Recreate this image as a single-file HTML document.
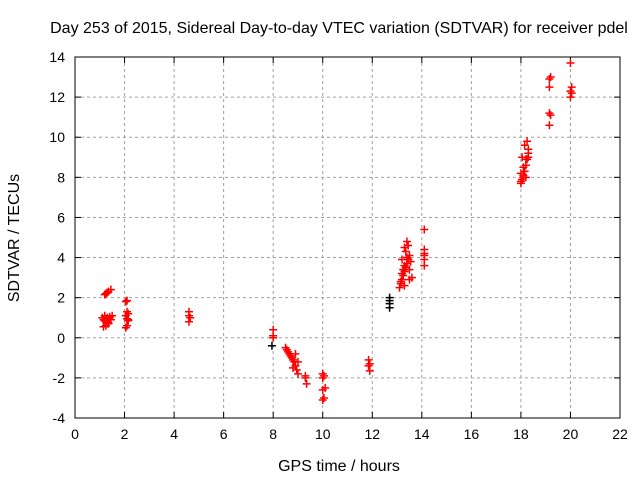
<!DOCTYPE html>
<html><head><meta charset="utf-8"><style>
body{margin:0;background:#fff;}
svg text{font-family:"Liberation Sans",sans-serif;font-size:14px;fill:#000;}
svg text.big{font-size:16px;}
</style></head><body>
<svg id="chart" width="640" height="480">
<rect width="640" height="480" fill="#fff"/>
<text class="big" x="339" y="33" text-anchor="middle">Day 253 of 2015, Sidereal Day-to-day VTEC variation (SDTVAR) for receiver pdel</text>
<text class="big" x="339" y="471" text-anchor="middle">GPS time / hours</text>
<text class="big" transform="translate(19,238) rotate(-90)" text-anchor="middle">SDTVAR / TECUs</text>
<g id="grid"></g><g id="ticks"></g><g id="marks"></g>
<rect x="75" y="57" width="545" height="361" fill="none" stroke="#000" stroke-width="1"/>
</svg>
<script>
const xTicks=[0,2,4,6,8,10,12,14,16,18,20,22];
const yTicks=[-4,-2,0,2,4,6,8,10,12,14];
const redX=[1.2,1.25,1.3,1.35,1.45,1.1,1.15,1.2,1.25,1.3,1.35,1.4,1.45,1.5,1.15,1.25,1.35,1.2,1.3,1.4,1.2,2.1,2.05,2.1,2.15,2.05,2.1,2.15,2.1,2.05,2.15,4.6,4.6,4.65,4.6,8.0,8.0,8.0,8.5,8.55,8.6,8.65,8.7,8.75,8.8,8.85,8.9,8.95,9.0,8.9,9.0,8.8,9.3,9.3,9.35,10.0,10.05,10.0,10.1,10.0,10.05,10.0,11.85,11.9,11.85,11.9,13.1,13.15,13.2,13.25,13.3,13.35,13.4,13.45,13.5,13.2,13.3,13.4,13.5,13.6,13.15,13.25,13.35,13.45,13.55,13.3,13.4,13.5,13.2,13.3,14.1,14.1,14.1,14.1,14.1,14.1,18.0,18.05,18.1,18.15,18.2,18.25,18.3,18.0,18.1,18.2,18.3,18.05,18.15,18.25,18.0,18.1,18.2,18.3,19.15,19.2,19.15,19.15,19.2,19.15,20.0,20.05,20.0,20.05,20.0];
const redY=[2.15,2.2,2.25,2.3,2.4,1.0,0.9,1.1,0.8,1.0,0.7,1.05,0.9,1.1,0.55,0.6,0.75,0.85,0.95,1.0,1.0,1.85,1.8,1.3,1.2,1.1,0.95,0.85,0.6,0.5,0.9,1.3,1.1,1.0,0.8,0.4,0.1,0.0,-0.5,-0.6,-0.7,-0.8,-0.9,-1.0,-1.1,-1.2,-1.4,-1.6,-1.8,-0.8,-1.2,-1.5,-1.9,-2.0,-2.3,-1.8,-1.9,-2.0,-2.5,-2.6,-3.0,-3.1,-1.1,-1.3,-1.4,-1.65,2.5,2.7,2.9,3.1,3.3,3.5,3.7,3.9,4.1,3.2,3.6,4.0,3.4,3.0,2.8,3.4,4.3,4.6,3.8,4.5,4.8,2.9,3.9,2.6,5.4,4.4,4.1,3.9,3.6,4.2,7.7,7.9,8.1,8.3,8.6,8.9,9.2,8.2,8.5,8.9,9.4,9.0,9.6,9.8,7.8,8.0,8.0,9.0,12.9,13.0,12.5,11.2,11.1,10.6,13.7,12.5,12.3,12.2,12.0];
const blackX=[7.95,12.7,12.7,12.7,12.7];
const blackY=[-0.4,1.5,1.7,1.85,2.0];
const X0=75,X1=620,Y0=418,Y1=57;
const sx=v=>X0+(v-0)/(22-0)*(X1-X0);
const sy=v=>Y0-(v+4)/(18)*(Y0-Y1);
const NS="http://www.w3.org/2000/svg";
function mk(t,a,p){const e=document.createElementNS(NS,t);for(const k in a)e.setAttribute(k,a[k]);p.appendChild(e);return e;}
const grid=document.getElementById('grid'),ticks=document.getElementById('ticks'),marks=document.getElementById('marks');
xTicks.forEach(t=>{const x=sx(t);
 if(t>0&&t<22){const g=mk('line',{x1:x,x2:x,y1:Y1,y2:Y0,stroke:'#a0a0a0','stroke-dasharray':'3,3'},grid);
 
 }
 mk('line',{x1:x,x2:x,y1:Y0,y2:Y0-6,stroke:'#000'},ticks);
 mk('line',{x1:x,x2:x,y1:Y1,y2:Y1+6,stroke:'#000'},ticks);
 const l=mk('text',{x:x,y:Y0+21,'text-anchor':'middle'},ticks);l.textContent=t;
 
 });
yTicks.forEach(t=>{const y=sy(t);
 if(t>-4&&t<14){const g=mk('line',{x1:X0,x2:X1,y1:y,y2:y,stroke:'#a0a0a0','stroke-dasharray':'3,3'},grid);
 
 }
 mk('line',{x1:X0,x2:X0+6,y1:y,y2:y,stroke:'#000'},ticks);
 mk('line',{x1:X1,x2:X1-6,y1:y,y2:y,stroke:'#000'},ticks);
 const l=mk('text',{x:X0-10,y:y+5,'text-anchor':'end'},ticks);l.textContent=t;
 
 });
function plus(xs,ys,c,name){xs.forEach((v,i)=>{const x=sx(v),y=sy(ys[i]);
 const p=mk('path',{d:`M${x-4},${y}H${x+4}M${x},${y-4}V${y+4}`,stroke:c,'stroke-width':1.5,fill:'none'},marks);
 
 });}
plus(blackX,blackY,'#000','point-black');
plus(redX,redY,'#ff0000','point-red');
</script>
</body></html>
